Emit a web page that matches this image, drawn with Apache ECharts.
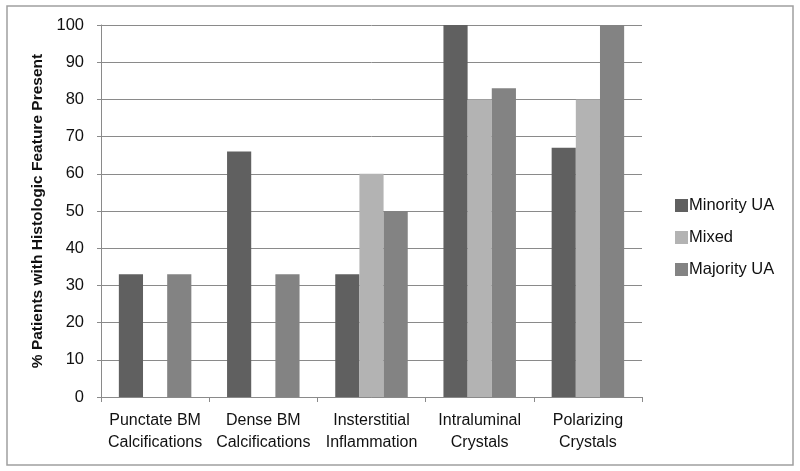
<!DOCTYPE html>
<html><head><meta charset="utf-8">
<script src="https://cdn.jsdelivr.net/npm/echarts@6/dist/echarts.min.js"></script>
<style>html,body{margin:0;padding:0;background:#fff}#c{width:800px;height:471px}</style>
</head><body><div id="c"></div>
<script>
const categories = ['Punctate BM\nCalcifications','Dense BM\nCalcifications','Insterstitial\nInflammation','Intraluminal\nCrystals','Polarizing\nCrystals'];
const minorityUA = [33, 66, 33, 100, 67];
const mixed = [0, 0, 60, 80, 80];
const majorityUA = [33, 33, 50, 83, 100];
const yTicks = [0,10,20,30,40,50,60,70,80,90,100];

const font = 'Liberation Sans, Arial, sans-serif';
const chart = echarts.init(document.getElementById('c'));
chart.setOption({
  animation:false,
  backgroundColor:'#fff',
  graphic:[{type:'rect',shape:{x:7,y:6,width:786,height:459},style:{fill:'none',stroke:'#a0a0a0',lineWidth:1.5}}],
  grid:{left:101,right:158,top:25,bottom:74},
  legend:{orient:'vertical',left:670,top:192,itemWidth:13,itemHeight:13,itemGap:15,icon:'rect',
    textStyle:{fontFamily:font,fontSize:16.5,color:'#111',padding:[0,0,0,-4]},
    data:['Minority UA','Mixed','Majority UA']},
  xAxis:{type:'category',data:categories,
    axisLine:{lineStyle:{color:'#8a8a8a',width:1}},
    axisTick:{show:true,length:5,lineStyle:{color:'#8a8a8a'}},
    axisLabel:{fontFamily:font,fontSize:16,color:'#111',margin:13,lineHeight:22,interval:0}},
  yAxis:{type:'value',min:0,max:100,interval:10,
    name:'% Patients with Histologic Feature Present',nameLocation:'middle',nameGap:54,
    nameTextStyle:{fontFamily:font,fontSize:15.5,fontWeight:'bold',color:'#111'},
    axisLine:{show:true,lineStyle:{color:'#8a8a8a',width:1}},
    axisTick:{show:true,length:4,lineStyle:{color:'#8a8a8a'}},
    axisLabel:{fontFamily:font,fontSize:16.5,color:'#111',margin:17,
      formatter:v=>yTicks.includes(v)?String(v):''},
    splitLine:{lineStyle:{color:'#8a8a8a',width:1}}},
  series:[
    {name:'Minority UA',type:'bar',data:minorityUA,itemStyle:{color:'#606060'},barGap:'0%',barCategoryGap:'33%'},
    {name:'Mixed',type:'bar',data:mixed,itemStyle:{color:'#b3b3b3'},barGap:'0%',barCategoryGap:'33%'},
    {name:'Majority UA',type:'bar',data:majorityUA,itemStyle:{color:'#838383'},barGap:'0%',barCategoryGap:'33%'}
  ]
});
</script></body></html>
